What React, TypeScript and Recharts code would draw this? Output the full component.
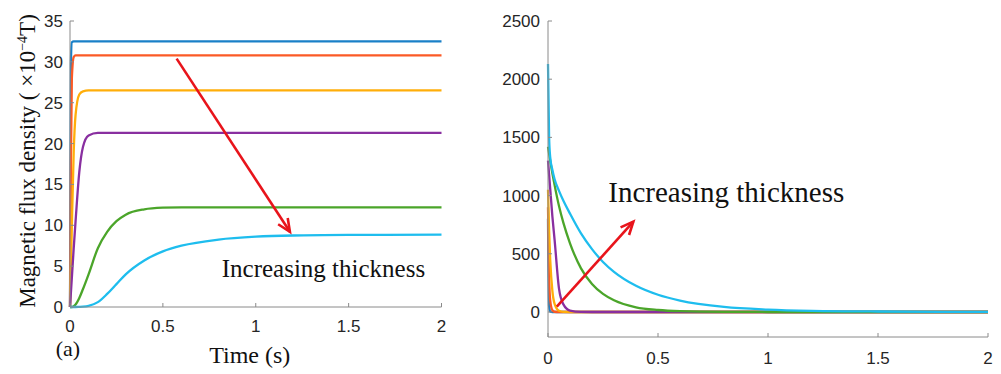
import React from 'react';
import { LineChart, Line, XAxis, YAxis, ReferenceLine, ReferenceDot } from 'recharts';

// shared time samples (s)
const times = [0, 0.005, 0.01, 0.02, 0.03, 0.05, 0.07, 0.1, 0.15, 0.2, 0.25, 0.3, 0.4, 0.5, 0.6, 0.8, 1.0, 1.2, 1.5, 2.0];

// (a) magnetic flux density (x10^-4 T), thinnest -> thickest
const fluxBlue = [0, 30, 32.4, 32.5, 32.5, 32.5, 32.5, 32.5, 32.5, 32.5, 32.5, 32.5, 32.5, 32.5, 32.5, 32.5, 32.5, 32.5, 32.5, 32.5];
const fluxRed = [0, 18, 28, 30.6, 30.8, 30.8, 30.8, 30.8, 30.8, 30.8, 30.8, 30.8, 30.8, 30.8, 30.8, 30.8, 30.8, 30.8, 30.8, 30.8];
const fluxYellow = [0, 5, 10, 19, 23.5, 26, 26.4, 26.5, 26.5, 26.5, 26.5, 26.5, 26.5, 26.5, 26.5, 26.5, 26.5, 26.5, 26.5, 26.5];
const fluxPurple = [0, 1.8, 3.6, 7.2, 10.5, 16.5, 19.6, 21.0, 21.3, 21.3, 21.3, 21.3, 21.3, 21.3, 21.3, 21.3, 21.3, 21.3, 21.3, 21.3];
const fluxGreen = [0, 0, 0, 0.1, 0.3, 1.1, 2.2, 4.0, 7.2, 9.2, 10.5, 11.3, 11.95, 12.15, 12.2, 12.2, 12.2, 12.2, 12.2, 12.2];
const fluxCyan = [0, 0, 0, 0, 0, 0.02, 0.05, 0.15, 0.6, 1.6, 2.8, 4.0, 5.7, 6.8, 7.5, 8.25, 8.6, 8.75, 8.82, 8.85];

// (b) right panel values
const rBlue = [800, 50, 3, 0, 0, 0, 0, 0, 0, 0, 0, 0, 0, 0, 0, 0, 0, 0, 0, 0];
const rRed = [900, 300, 100, 15, 2, 0, 0, 0, 0, 0, 0, 0, 0, 0, 0, 0, 0, 0, 0, 0];
const rYellow = [1050, 700, 450, 180, 70, 10, 1, 0, 0, 0, 0, 0, 0, 0, 0, 0, 0, 0, 0, 0];
const rPurple = [1300, 1180, 1060, 820, 620, 200, 65, 12, 1, 0, 0, 0, 0, 0, 0, 0, 0, 0, 0, 0];
const rGreen = [1420, 1360, 1300, 1190, 1090, 910, 765, 590, 375, 240, 155, 100, 40, 17, 7, 1, 0, 0, 0, 0];
const rCyan = [2130, 1500, 1330, 1220, 1140, 1040, 955, 845, 675, 540, 430, 345, 225, 148, 98, 44, 21, 10, 4, 1];

const xTicks = [0, 0.5, 1, 1.5, 2];
const leftYTicks = [0, 5, 10, 15, 20, 25, 30, 35];
const rightYTicks = [0, 500, 1000, 1500, 2000, 2500];

const seriesKeys = ['blue', 'red', 'yellow', 'purple', 'green', 'cyan'];
const colors: Record<string, string> = {
  blue: '#1a80c8',
  red: '#fb5a26',
  yellow: '#ffae0a',
  purple: '#892fa0',
  green: '#4ba52a',
  cyan: '#1ebdee',
};

const leftData = times.map((t, i) => ({
  t,
  blue: fluxBlue[i], red: fluxRed[i], yellow: fluxYellow[i],
  purple: fluxPurple[i], green: fluxGreen[i], cyan: fluxCyan[i],
}));
const rightData = times.map((t, i) => ({
  t,
  blue: rBlue[i], red: rRed[i], yellow: rYellow[i],
  purple: rPurple[i], green: rGreen[i], cyan: rCyan[i],
}));

// annotation anchors in data coordinates
const leftArrow = { from: { t: 0.574, v: 30.4 }, to: { t: 1.184, v: 9.2 } };
const rightArrow = { from: { t: 0.04, v: 45 }, to: { t: 0.388, v: 776 } };
const leftTextAt = { t: 0.817, v: 3.7 };
const rightTextAt = { t: 0.274, v: 947 };
const annotationText = 'Increasing thickness';

const AXIS = '#8a8a8a';
const SANS = '"Liberation Sans", Arial, Helvetica, sans-serif';
const SERIF = '"Liberation Serif", "Times New Roman", serif';
const tickStyle = { fill: '#262626', fontSize: 17, fontFamily: SANS };
const ARROW_RED = '#e8141b';

function Arrow(props: any) {
  const { x1, y1, x2, y2 } = props;
  const a = Math.atan2(y2 - y1, x2 - x1);
  const L = 14;
  const s = 0.42;
  const p1 = `${x2 - L * Math.cos(a - s)},${y2 - L * Math.sin(a - s)}`;
  const p2 = `${x2 - L * Math.cos(a + s)},${y2 - L * Math.sin(a + s)}`;
  return (
    <g>
      <line x1={x1} y1={y1} x2={x2} y2={y2} stroke={ARROW_RED} strokeWidth={2.6} />
      <polyline points={`${p1} ${x2},${y2} ${p2}`} fill="none" stroke={ARROW_RED} strokeWidth={2.6} />
    </g>
  );
}

const makeText = (size: number) => (props: any) => (
  <text x={props.cx} y={props.cy} fontFamily={SERIF} fontSize={size} fill="#111">
    {annotationText}
  </text>
);

const YLabel = (props: any) => {
  const vb = props.viewBox || { x: 20, y: 21, width: 50, height: 286 };
  const cx = vb.x + 15;
  const cy = vb.y + vb.height / 2 - 3;
  return (
    <text
      x={cx}
      y={cy}
      transform={`rotate(-90, ${cx}, ${cy})`}
      textAnchor="middle"
      fontFamily={SERIF}
      fontSize={23}
      fill="#111"
    >
      Magnetic flux density ( ×10
      <tspan dy={-8} fontSize={14}>−4</tspan>
      <tspan dy={8}>T)</tspan>
    </text>
  );
};

const XLabel = (props: any) => {
  const vb = props.viewBox || { x: 70, y: 307, width: 371, height: 30 };
  return (
    <g>
      <text x={vb.x + vb.width / 2 - 6} y={vb.y + 56} textAnchor="middle" fontFamily={SERIF} fontSize={24} fill="#111">
        Time (s)
      </text>
      <text x={vb.x - 2} y={vb.y + 49} textAnchor="middle" fontFamily={SERIF} fontSize={22} fill="#111">
        (a)
      </text>
    </g>
  );
};

export default function App() {
  return (
    <div style={{ position: 'absolute', left: 0, top: 0, width: 1001, height: 374, background: '#fff' }}>
      <div style={{ position: 'absolute', left: 0, top: 0 }}>
        <LineChart width={480} height={374} data={leftData} margin={{ top: 21, right: 38.5, bottom: 37, left: 20 }}>
          <XAxis
            dataKey="t"
            type="number"
            domain={[0, 2]}
            ticks={xTicks}
            interval={0}
            height={30}
            axisLine={{ stroke: AXIS }}
            tickLine={{ stroke: AXIS }}
            tickSize={-4}
            tickMargin={17}
            tick={tickStyle}
            label={XLabel}
          />
          <YAxis
            type="number"
            domain={[0, 35]}
            ticks={leftYTicks}
            interval={0}
            width={50}
            axisLine={{ stroke: AXIS }}
            tickLine={{ stroke: AXIS }}
            tickSize={-4}
            tickMargin={11}
            tick={tickStyle}
            label={YLabel}
          />
          {seriesKeys.map((k) => (
            <Line
              key={k}
              type="monotone"
              dataKey={k}
              stroke={colors[k]}
              strokeWidth={2.3}
              dot={false}
              isAnimationActive={false}
            />
          ))}
          <ReferenceLine
            segment={[{ x: leftArrow.from.t, y: leftArrow.from.v }, { x: leftArrow.to.t, y: leftArrow.to.v }]}
            shape={Arrow}
            ifOverflow="visible"
          />
          <ReferenceDot x={leftTextAt.t} y={leftTextAt.v} r={0} shape={makeText(25)} ifOverflow="visible" />
        </LineChart>
      </div>
      <div style={{ position: 'absolute', left: 500, top: 0 }}>
        <LineChart width={501} height={374} data={rightData} margin={{ top: 21, right: 13, bottom: 7, left: 2 }}>
          <XAxis
            dataKey="t"
            type="number"
            domain={[0, 2]}
            ticks={xTicks}
            interval={0}
            height={30}
            axisLine={{ stroke: AXIS }}
            tickLine={{ stroke: AXIS }}
            tickSize={-4}
            tickMargin={19}
            tick={tickStyle}
          />
          <YAxis
            type="number"
            domain={[-215, 2500]}
            ticks={rightYTicks}
            interval={0}
            allowDataOverflow
            width={46}
            axisLine={{ stroke: AXIS }}
            tickLine={{ stroke: AXIS }}
            tickSize={-4}
            tickMargin={12}
            tick={tickStyle}
          />
          {seriesKeys.map((k) => (
            <Line
              key={k}
              type="monotone"
              dataKey={k}
              stroke={colors[k]}
              strokeWidth={2.3}
              dot={false}
              isAnimationActive={false}
            />
          ))}
          <ReferenceLine
            segment={[{ x: rightArrow.from.t, y: rightArrow.from.v }, { x: rightArrow.to.t, y: rightArrow.to.v }]}
            shape={Arrow}
            ifOverflow="visible"
          />
          <ReferenceDot x={rightTextAt.t} y={rightTextAt.v} r={0} shape={makeText(29)} ifOverflow="visible" />
        </LineChart>
      </div>
    </div>
  );
}
